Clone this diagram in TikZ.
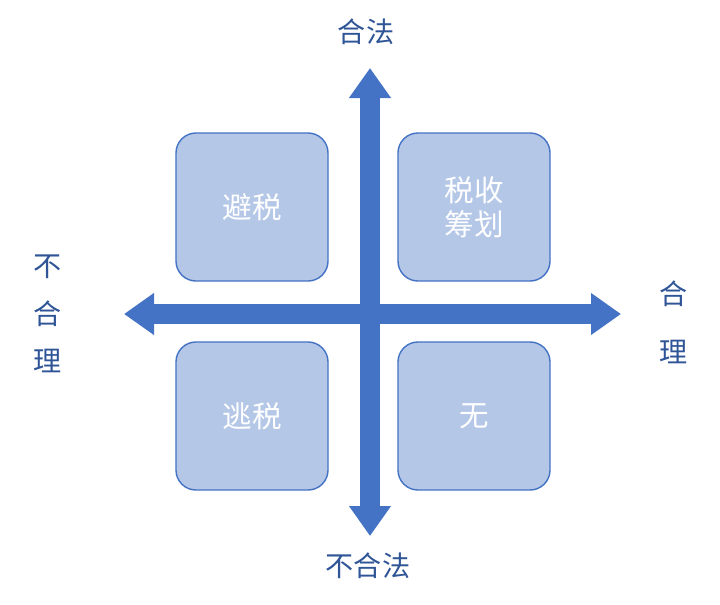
\documentclass[tikz,border=0pt]{standalone}
\usepackage{fontspec}
\newfontfamily\cjk{Noto Sans CJK SC}
\usetikzlibrary{arrows.meta}
\definecolor{ax}{HTML}{4472C4}
\definecolor{bx}{HTML}{B4C7E7}
\definecolor{lb}{HTML}{2F5597}
\tikzset{
 quad/.style={draw=ax,line width=1pt,fill=bx,rounded corners=0.5cm,minimum width=3.8cm,minimum height=3.7cm,text=white,font=\cjk\fontsize{21}{24}\selectfont,align=center},
 axis/.style={ax,line width=0.5cm,{Triangle[width=1cm,length=0.75cm]}-{Triangle[width=1cm,length=0.75cm]}},
 lab/.style={text=lb,font=\cjk\fontsize{20}{24}\selectfont,align=center}
}
\begin{document}
\begin{tikzpicture}[x=0.025cm,y=-0.025cm]
\useasboundingbox (0,0) rectangle (720,604);
\coordinate (top) at (370,68);
\coordinate (bot) at (370,536);
\coordinate (lft) at (124,314);
\coordinate (rgt) at (621,314);
\draw[axis] (bot) -- (top);
\draw[axis] (lft) -- (rgt);
\node[quad] (a) at (252,207) {避税};
\node[quad] (b) at (474,207) {税收\\筹划};
\node[quad] (c) at (252,416) {逃税};
\node[quad] (d) at (474,416) {无};
\node[lab] (l1) at (366,32) {合法};
\node[lab] (l2) at (368,566) {不合法};
\node[lab,text width=1cm] (l3) at (48,314) {不\\[0.35cm]合\\[0.35cm]理};
\node[lab,text width=1cm] (l4) at (674,322) {合\\[0.6cm]理};
\end{tikzpicture}
\end{document}
